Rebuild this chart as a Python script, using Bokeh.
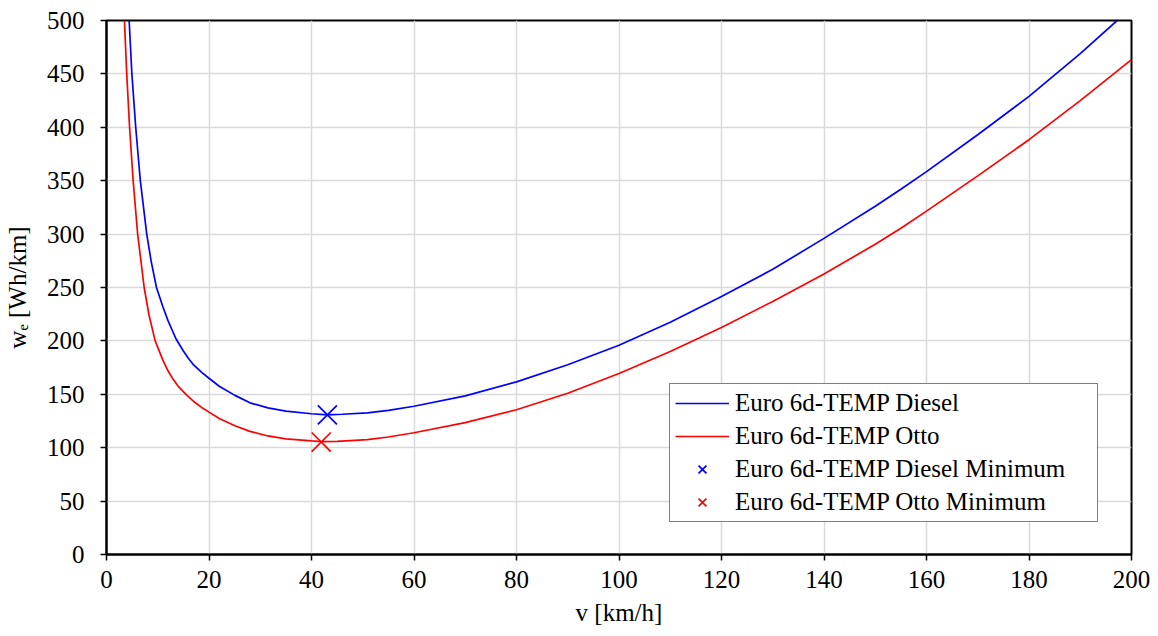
from bokeh.plotting import figure
from bokeh.models import FixedTicker, Legend, LegendItem
from bokeh.embed import file_html
from bokeh.resources import INLINE

# ---- data ----
v_diesel = [4.42, 4.95, 5.7, 6.6, 7.85, 8.7, 9.75, 11, 12, 13.55, 15, 16, 17, 18.57, 20, 22,
            25.06, 28, 31.5, 35, 40, 43.1, 46, 50.9, 55, 60, 70, 80, 90, 100, 110, 120, 130,
            140, 150, 155, 160, 170, 180, 190, 197.2]
w_diesel = [500, 450, 400, 350, 300, 275, 250, 232, 219, 202, 190.5, 183.5, 177.5, 170.5, 165,
            157.5, 149, 142, 137.3, 134.3, 131.8, 130.7, 131.3, 132.6, 135, 138.8, 148.5, 161.6,
            177.7, 196, 217.5, 241.5, 267, 296, 326, 342, 358.5, 393, 429, 469, 500]

v_otto = [3.5, 3.95, 4.5, 5.2, 6.08, 7.35, 8.3, 9.5, 11, 12, 13, 14, 15.5, 17, 18.57, 20, 22,
          25.06, 28, 31.5, 35, 40, 41.9, 45, 50.9, 55, 60, 70, 80, 90, 100, 110, 120, 130, 140,
          150, 155, 160, 170, 180, 190, 200]
w_otto = [500, 450, 400, 350, 300, 250, 224, 200, 182, 172, 164, 157.5, 150, 143.3, 137.7,
          133.3, 127.3, 120.6, 115.3, 111, 108.2, 106.3, 105.7, 105.9, 107.5, 110, 114, 123.5,
          135.5, 151, 169.5, 190, 212.5, 237, 262.7, 290.5, 305.5, 321.5, 354.5, 388.4, 425,
          463.4]

min_diesel_v = [43.1]
min_diesel_w = [130.7]
min_otto_v = [41.9]
min_otto_w = [105.3]

x_ticks = [0, 20, 40, 60, 80, 100, 120, 140, 160, 180, 200]
y_ticks = [0, 50, 100, 150, 200, 250, 300, 350, 400, 450, 500]

labels = ["Euro 6d-TEMP Diesel", "Euro 6d-TEMP Otto",
          "Euro 6d-TEMP Diesel Minimum", "Euro 6d-TEMP Otto Minimum"]
x_title = "v [km/h]"
y_title = "w\u2091 [Wh/km]"

FONT = "'Liberation Serif', 'Times New Roman', serif"
FS = "25px"

p = figure(width=1158, height=636, x_range=(0, 200), y_range=(0, 500),
           output_backend="svg", toolbar_location=None,
           min_border_left=105, min_border_right=27, min_border_top=20, min_border_bottom=82)
p.background_fill_color = "white"
p.border_fill_color = "white"
p.outline_line_color = "black"
p.outline_line_width = 2

for ax, ticks in ((p.xaxis[0], x_ticks), (p.yaxis[0], y_ticks)):
    ax.ticker = FixedTicker(ticks=ticks)
    ax.minor_tick_line_color = None
    ax.major_tick_in = 0
    ax.major_tick_out = 6
    ax.major_tick_line_width = 1.5
    ax.major_tick_line_color = "black"
    ax.axis_line_width = 2
    ax.axis_line_color = "black"
    ax.major_label_text_font = FONT
    ax.major_label_text_font_size = FS
    ax.major_label_text_color = "black"
    ax.axis_label_text_font = FONT
    ax.axis_label_text_font_size = FS
    ax.axis_label_text_font_style = "normal"
    ax.axis_label_text_color = "black"
p.xaxis.major_label_standoff = 10
p.yaxis.major_label_standoff = 16
p.xaxis.axis_label = x_title
p.xaxis.axis_label_standoff = 8
p.yaxis.axis_label = y_title
p.yaxis.axis_label_standoff = 13

p.xgrid.ticker = FixedTicker(ticks=x_ticks)
p.ygrid.ticker = FixedTicker(ticks=y_ticks)
p.grid.grid_line_color = "#d9d9d9"
p.grid.grid_line_width = 1.5

r1 = p.line(v_diesel, w_diesel, line_color="#0000ff", line_width=1.7)
r2 = p.line(v_otto, w_otto, line_color="#ff0000", line_width=1.7)
r3 = p.scatter(min_diesel_v, min_diesel_w, marker="x", size=27, line_color="#0000ff", line_width=1.7)
r4 = p.scatter(min_otto_v, min_otto_w, marker="x", size=27, line_color="#ff0000", line_width=1.7)

legend = Legend(items=[LegendItem(label=labels[0], renderers=[r1]),
                       LegendItem(label=labels[1], renderers=[r2]),
                       LegendItem(label=labels[2], renderers=[r3]),
                       LegendItem(label=labels[3], renderers=[r4])],
                location=(563, 32))
legend.label_text_font = FONT
legend.label_text_font_size = FS
legend.label_text_color = "black"
legend.label_height = 28
legend.glyph_height = 28
legend.glyph_width = 54
legend.label_width = 357
legend.label_standoff = 6
legend.spacing = 5
legend.padding = 5
legend.margin = 0
legend.border_line_color = "black"
legend.border_line_width = 1.5
legend.background_fill_color = "white"
legend.background_fill_alpha = 1
p.add_layout(legend)

open("out.html", "w").write(file_html(p, INLINE))
